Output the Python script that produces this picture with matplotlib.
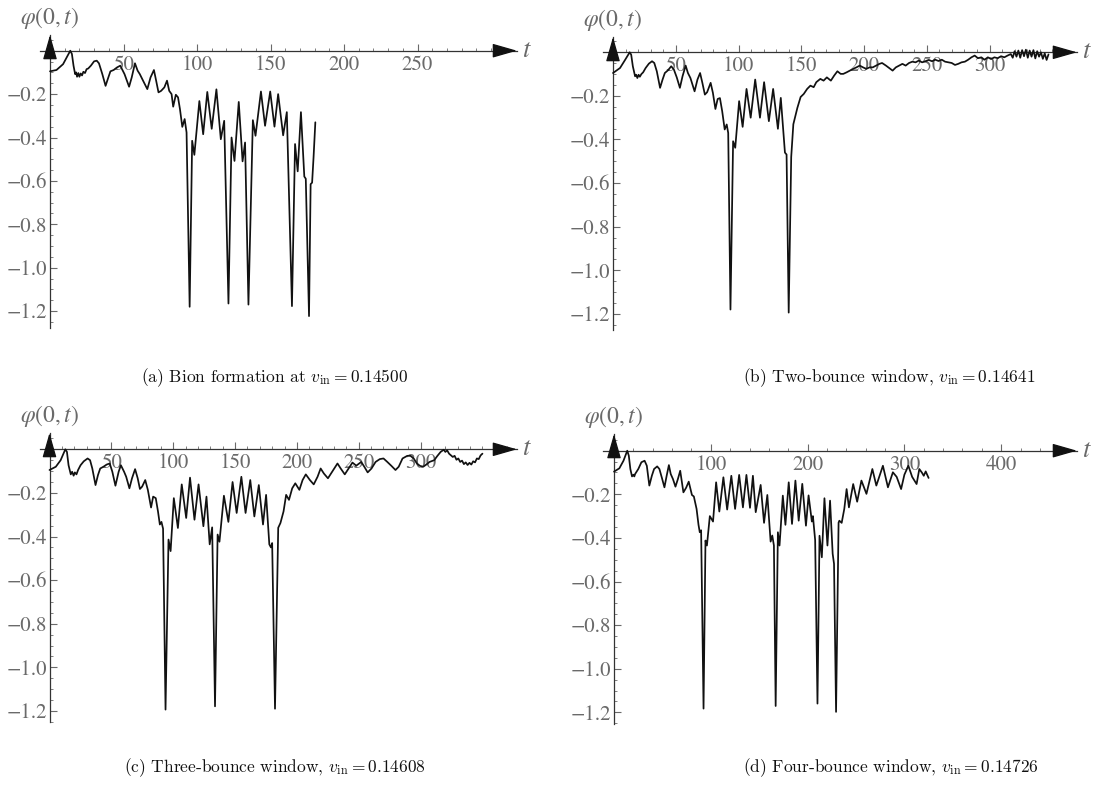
import matplotlib
matplotlib.use("Agg")
import matplotlib.pyplot as plt
from matplotlib.ticker import MultipleLocator

# ---------------- data ----------------
t_a = [0, 4.4, 8.9, 13.8, 14.9, 16.0, 17.1, 17.8, 18.4, 19.3, 20.0, 20.9, 21.8, 22.7, 23.8,
       24.9, 26.0, 27.8, 30.0, 31.8, 33.3, 35.6, 37.8, 39.3, 41.1, 43.3, 45.6, 47.8, 50.7,
       53.8, 55.6, 57.8, 59.6, 61.1, 63.3, 66.2, 68.4, 70.7, 72.2, 73.8, 75.6, 77.8, 79.6,
       81.1, 82.7, 83.8, 85.6, 87.1, 88.4, 90.0, 91.6, 92.9, 95.0, 96.7, 98.2, 101.6, 104.2,
       107.0, 110.0, 113.2, 116.2, 118.5, 121.4, 123.5, 125.5, 128.4, 131.0, 132.7, 135.0,
       138.0, 139.8, 143.5, 146.3, 149.8, 152.7, 155.2, 158.6, 161.1, 164.6, 166.7, 168.5,
       170.7, 173.0, 174.0, 176.2, 177.3, 178.3, 179.3, 180.5]
phi_a = [-0.095, -0.089, -0.062, 0.0, -0.015, -0.069, -0.108, -0.100, -0.120, -0.103, -0.120,
         -0.105, -0.114, -0.097, -0.103, -0.085, -0.082, -0.069, -0.049, -0.046, -0.058, -0.108,
         -0.162, -0.131, -0.095, -0.089, -0.077, -0.069, -0.108, -0.166, -0.123, -0.058, -0.092,
         -0.108, -0.138, -0.177, -0.123, -0.089, -0.138, -0.192, -0.185, -0.169, -0.138, -0.185,
         -0.200, -0.258, -0.203, -0.215, -0.269, -0.351, -0.315, -0.377, -1.180, -0.415, -0.480,
         -0.232, -0.385, -0.190, -0.360, -0.178, -0.408, -0.323, -1.165, -0.400, -0.508, -0.236,
         -0.510, -0.423, -1.170, -0.320, -0.392, -0.188, -0.346, -0.188, -0.350, -0.200, -0.390,
         -0.283, -1.177, -0.430, -0.556, -0.283, -0.580, -0.590, -1.223, -0.615, -0.608, -0.490,
         -0.330]

t_b = [0, 5.6, 9.4, 13.3, 14.5, 15.8, 17.6, 18.5, 19.4, 20.4, 21.4, 22.6, 24.0, 26.0, 28.6,
       31.1, 32.9, 34.9, 37.5, 39.5, 41.3, 43.9, 46.4, 48.5, 50.8, 53.3, 55.4, 57.9, 59.7, 61.7,
       65.0, 67.3, 69.4, 71.2, 73.2, 75.0, 77.8, 79.6, 81.6, 83.4, 85.2, 87.0, 89.0, 90.6, 91.8,
       93.6, 95.7, 97.4, 100.5, 103.3, 106.4, 109.7, 113.3, 117.1, 120.4, 124.2, 127.6, 131.4,
       133.7, 137.0, 138.3, 140.0, 142.0, 143.7, 146.9, 149.5, 152.0, 154.7, 157.3, 159.9,
       162.0, 165.2, 167.8, 170.4, 173.6, 176.2, 178.8, 181.4, 183.5, 186.1, 188.7, 191.4,
       194.0, 196.6, 199.2, 201.8, 204.5, 207.0, 209.7, 212.3, 214.4, 217.5, 220.2, 222.8,
       225.4, 228.0, 230.6, 233.2, 235.9, 238.5, 241.1, 243.7, 246.3, 249.0, 251.6, 254.2,
       256.8, 259.4, 262.0, 264.6, 267.3, 269.9, 272.5, 275.1, 277.7, 280.4, 283.0, 285.6,
       288.2, 290.8, 293.5, 296.0, 298.7, 301.3, 303.9, 306.5, 309.2, 311.8, 314.4, 317.0,
       318.5, 320.0, 321.5, 323.0, 324.5, 326.0, 327.5, 329.0, 330.5, 332.0, 333.5, 335.0,
       336.5, 338.0, 339.5, 341.0, 342.5, 344.0, 345.5, 347.0]
phi_b = [-0.095, -0.072, -0.037, 0.0, -0.011, -0.064, -0.110, -0.103, -0.118, -0.103, -0.112,
         -0.100, -0.092, -0.072, -0.052, -0.041, -0.049, -0.087, -0.163, -0.125, -0.095, -0.082,
         -0.064, -0.079, -0.115, -0.163, -0.110, -0.061, -0.095, -0.118, -0.179, -0.125, -0.095,
         -0.140, -0.194, -0.183, -0.140, -0.186, -0.260, -0.214, -0.210, -0.270, -0.354, -0.331,
         -0.370, -1.180, -0.408, -0.438, -0.224, -0.342, -0.168, -0.300, -0.125, -0.300, -0.137,
         -0.316, -0.168, -0.351, -0.209, -0.460, -0.469, -1.194, -0.480, -0.330, -0.255, -0.205,
         -0.191, -0.168, -0.153, -0.160, -0.137, -0.122, -0.130, -0.115, -0.130, -0.107, -0.087,
         -0.099, -0.099, -0.092, -0.084, -0.076, -0.069, -0.061, -0.069, -0.076, -0.069, -0.069,
         -0.061, -0.053, -0.049, -0.061, -0.073, -0.084, -0.069, -0.061, -0.053, -0.061, -0.049,
         -0.043, -0.046, -0.038, -0.046, -0.041, -0.035, -0.041, -0.034, -0.040, -0.034, -0.043,
         -0.046, -0.049, -0.058, -0.053, -0.046, -0.043, -0.034, -0.023, -0.015, -0.027, -0.023,
         -0.034, -0.023, -0.031, -0.023, -0.027, -0.018, -0.023, -0.015, -0.008, -0.025, 0.005,
         -0.020, 0.008, -0.025, 0.010, -0.018, 0.012, -0.025, 0.008, -0.020, 0.010, -0.028,
         0.005, -0.020, 0.000, -0.030, -0.005, -0.035, -0.010]

t_c = [0, 5.1, 9.0, 12.8, 14.1, 15.4, 17.2, 18.3, 19.5, 20.5, 21.8, 23.1, 25.1, 27.7, 30.8,
       32.8, 34.6, 37.2, 39.2, 41.0, 43.6, 46.2, 48.7, 50.8, 53.3, 55.9, 57.7, 60.3, 62.0, 64.6,
       66.7, 69.2, 71.3, 73.1, 74.9, 77.4, 79.5, 82.1, 83.8, 85.9, 87.7, 89.2, 90.5, 91.8, 93.8,
       96.2, 97.9, 100.5, 103.8, 106.9, 110.5, 113.6, 117.2, 120.5, 124.4, 126.9, 129.5, 131.5,
       133.8, 135.9, 137.4, 141.0, 144.6, 148.0, 151.3, 155.1, 158.5, 162.3, 165.6, 169.2,
       172.6, 175.1, 177.7, 179.0, 180.0, 182.3, 184.9, 186.7, 189.2, 191.3, 193.6, 196.2,
       198.7, 202.0, 204.6, 207.2, 210.5, 213.6, 216.7, 219.2, 221.8, 225.1, 228.5, 232.8,
       235.4, 238.7, 241.8, 244.9, 248.0, 252.0, 254.5, 257.2, 260.3, 263.6, 267.0, 270.0,
       273.1, 276.4, 279.7, 282.3, 285.4, 289.2, 291.8, 294.4, 297.0, 299.5, 302.1, 304.6,
       307.2, 311.0, 313.6, 316.2, 318.7, 320.0, 321.5, 323.0, 324.4, 326.0, 327.5, 329.0,
       330.5, 332.0, 333.5, 335.0, 336.5, 338.0, 339.5, 341.0, 342.5, 344.0, 345.5, 347.0,
       348.5, 350.0]
phi_c = [-0.095, -0.080, -0.050, 0.0, -0.012, -0.073, -0.115, -0.103, -0.121, -0.106, -0.115,
         -0.095, -0.073, -0.055, -0.042, -0.050, -0.088, -0.164, -0.118, -0.088, -0.080, -0.070,
         -0.065, -0.103, -0.167, -0.103, -0.073, -0.103, -0.126, -0.179, -0.133, -0.091, -0.133,
         -0.182, -0.171, -0.141, -0.186, -0.267, -0.217, -0.224, -0.285, -0.345, -0.333, -0.364,
         -1.194, -0.414, -0.467, -0.224, -0.361, -0.161, -0.315, -0.130, -0.323, -0.161, -0.353,
         -0.217, -0.436, -0.358, -1.179, -0.391, -0.424, -0.213, -0.333, -0.150, -0.292, -0.126,
         -0.292, -0.141, -0.308, -0.164, -0.345, -0.209, -0.436, -0.450, -0.430, -1.190, -0.360,
         -0.338, -0.285, -0.209, -0.232, -0.179, -0.156, -0.186, -0.141, -0.115, -0.141, -0.161,
         -0.126, -0.088, -0.111, -0.133, -0.103, -0.065, -0.088, -0.115, -0.088, -0.061, -0.075,
         -0.058, -0.080, -0.106, -0.088, -0.058, -0.045, -0.042, -0.058, -0.076, -0.095, -0.080,
         -0.042, -0.030, -0.030, -0.042, -0.065, -0.076, -0.080, -0.070, -0.058, -0.050, -0.030,
         -0.012, -0.002, -0.012, -0.005, -0.020, -0.027, -0.035, -0.030, -0.048, -0.042, -0.058,
         -0.052, -0.068, -0.060, -0.072, -0.062, -0.070, -0.055, -0.060, -0.042, -0.045, -0.028,
         -0.020]

t_d = [0, 5.5, 9.8, 13.7, 15.3, 16.9, 18.6, 20.0, 21.0, 21.8, 25.1, 28.3, 31.6, 33.9, 36.5,
       39.1, 41.4, 44.6, 46.9, 49.5, 52.1, 54.4, 56.7, 58.6, 60.9, 63.5, 66.0, 68.4, 71.7, 74.5,
       77.2, 80.5, 82.5, 85.3, 87.3, 88.6, 90.0, 92.5, 94.5, 96.0, 99.0, 102.3, 105.5, 108.8,
       113.0, 116.9, 121.2, 125.1, 129.3, 133.2, 136.8, 140.5, 143.5, 146.4, 151.5, 155.0,
       158.4, 161.8, 163.5, 165.2, 167.0, 169.3, 171.0, 174.4, 177.1, 180.5, 183.9, 187.4,
       190.8, 194.5, 198.3, 201.0, 204.4, 205.5, 207.8, 210.2, 212.3, 214.7, 217.4, 220.5,
       223.2, 225.9, 227.3, 229.4, 232.0, 232.8, 235.2, 237.9, 240.3, 242.7, 247.1, 251.2,
       255.6, 260.8, 266.9, 271.0, 277.8, 283.0, 288.1, 292.0, 296.6, 300.0, 304.1, 308.0,
       312.6, 315.4, 318.0, 320.0, 322.0, 325.0]
phi_d = [-0.096, -0.081, -0.046, 0.0, -0.023, -0.084, -0.118, -0.110, -0.118, -0.107, -0.084,
         -0.053, -0.046, -0.069, -0.160, -0.115, -0.084, -0.072, -0.084, -0.125, -0.168, -0.115,
         -0.066, -0.107, -0.130, -0.165, -0.130, -0.092, -0.191, -0.170, -0.142, -0.203, -0.210,
         -0.267, -0.340, -0.374, -0.365, -1.183, -0.412, -0.435, -0.300, -0.325, -0.145, -0.279,
         -0.122, -0.270, -0.115, -0.267, -0.111, -0.260, -0.111, -0.262, -0.115, -0.282, -0.157,
         -0.331, -0.203, -0.417, -0.389, -0.435, -1.171, -0.374, -0.435, -0.206, -0.340, -0.145,
         -0.336, -0.137, -0.321, -0.152, -0.344, -0.205, -0.325, -0.300, -0.410, -1.160, -0.390,
         -0.489, -0.218, -0.435, -0.229, -0.473, -0.519, -1.198, -0.330, -0.321, -0.331, -0.267,
         -0.176, -0.260, -0.153, -0.234, -0.137, -0.198, -0.084, -0.160, -0.069, -0.168, -0.099,
         -0.120, -0.176, -0.110, -0.069, -0.120, -0.153, -0.084, -0.100, -0.115, -0.095, -0.125]

xticks_a = [50, 100, 150, 200, 250]
xticks_b = [50, 100, 150, 200, 250, 300]
xticks_c = [50, 100, 150, 200, 250, 300]
xticks_d = [100, 200, 300, 400]
yticks = [-0.2, -0.4, -0.6, -0.8, -1.0, -1.2]
ytick_labels = ["\u22120.2", "\u22120.4", "\u22120.6", "\u22120.8", "\u22121.0", "\u22121.2"]
captions = [r"(a) Bion formation at $v_{\mathrm{in}}=0.14500$",
            r"(b) Two-bounce window, $v_{\mathrm{in}}=0.14641$",
            r"(c) Three-bounce window, $v_{\mathrm{in}}=0.14608$",
            r"(d) Four-bounce window, $v_{\mathrm{in}}=0.14726$"]

# ---------------- drawing ----------------
plt.rcParams['font.family'] = ['STIXGeneral', 'DejaVu Serif']
plt.rcParams['mathtext.fontset'] = 'stix'

W, H = 1097, 788
fig = plt.figure(figsize=(W / 100, H / 100), dpi=100)
GRAY = '#6a6a6a'
AXC = '#333333'


def panel(t, phi, geom, xticks, xminor, caption, cap_xy):
    t0, sx, y0, sy, xl, xr, yt, yb = geom
    ax = fig.add_axes([xl / W, 1 - yb / H, (xr - xl) / W, (yb - yt) / H])
    ax.set_xlim((xl - t0) / sx, (xr - t0) / sx)
    ax.set_ylim(-(yb - y0) / sy, (y0 - yt) / sy)
    ax.patch.set_visible(False)
    for s in ['top', 'right']:
        ax.spines[s].set_visible(False)
    ax.spines['left'].set_position(('data', 0))
    ax.spines['bottom'].set_position(('data', 0))
    for s in ['left', 'bottom']:
        ax.spines[s].set_color(AXC)
        ax.spines[s].set_linewidth(0.9)
    ax.set_xticks(xticks)
    ax.set_xticklabels([str(v) for v in xticks])
    ax.set_yticks(yticks)
    ax.set_yticklabels(ytick_labels)
    ax.xaxis.set_minor_locator(MultipleLocator(xminor))
    ax.yaxis.set_minor_locator(MultipleLocator(0.05))
    ax.tick_params(which='major', direction='in', length=5, width=0.8, color=GRAY,
                   labelcolor=GRAY, labelsize=15)
    ax.tick_params(which='minor', direction='in', length=2.5, width=0.6, color=GRAY)
    ax.tick_params(axis='x', pad=3)
    ax.tick_params(axis='y', pad=2)
    ax.plot(t, phi, color='#111111', lw=1.25, zorder=5, clip_on=False,
            solid_joinstyle='round', solid_capstyle='round')
    arrow = dict(arrowstyle='-|>,head_length=1.4,head_width=0.4', mutation_scale=11,
                 color='#111111', lw=0.9, shrinkA=0, shrinkB=0)
    ax.annotate('', xy=(1, 0), xycoords=ax.get_yaxis_transform(), xytext=(-18, 0),
                textcoords='offset pixels', arrowprops=arrow)
    ax.annotate('', xy=(0, 1), xycoords=ax.get_xaxis_transform(), xytext=(0, -18),
                textcoords='offset pixels', arrowprops=arrow)
    ax.annotate(r'$\varphi(0,t)$', xy=(0, 1), xycoords=ax.get_xaxis_transform(),
                xytext=(0, 4), textcoords='offset pixels', ha='center', va='bottom',
                color=GRAY, fontsize=17)
    ax.annotate(r'$t$', xy=(1, 0), xycoords=ax.get_yaxis_transform(), xytext=(5, 0),
                textcoords='offset pixels', ha='left', va='center', color=GRAY, fontsize=19)
    fig.text(cap_xy[0] / W, 1 - cap_xy[1] / H, caption, ha='center', va='center',
             fontsize=12.5, color='#111111', fontfamily='cmr10', math_fontfamily='cm')
    return ax


panel(t_a, phi_a, (50, 1.47, 50.7, 217, 40, 517, 35, 328), xticks_a, 10, captions[0], (275, 378))
panel(t_b, phi_b, (613, 1.255, 52.3, 218, 603, 1077, 37, 330), xticks_b, 10, captions[1], (889, 378))
panel(t_c, phi_c, (49.5, 1.237, 449.3, 218, 40, 517, 433, 722), xticks_c, 10, captions[2], (275, 768))
panel(t_d, phi_d, (614, 0.968, 450.7, 218, 603, 1077, 434, 724), xticks_d, 20, captions[3], (891, 768))

fig.savefig('out.png', dpi=100)
